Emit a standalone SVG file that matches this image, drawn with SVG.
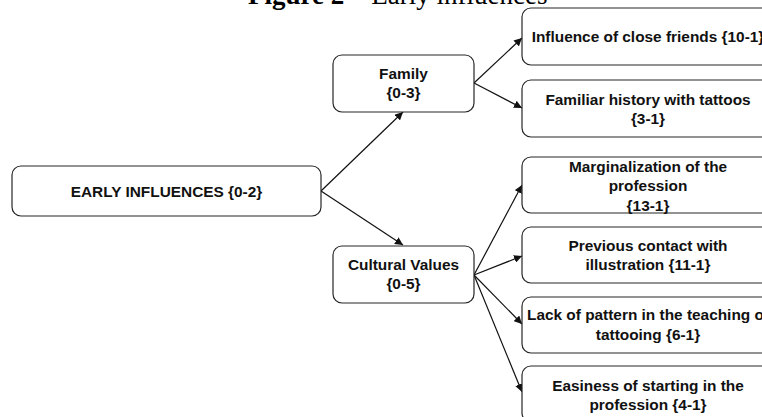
<svg xmlns="http://www.w3.org/2000/svg" width="762" height="417" viewBox="0 0 762 417">
<style>
.box{fill:#fff;stroke:#262626;stroke-width:1.2}
.t{font-family:"Liberation Sans",Arial,sans-serif;font-weight:bold;font-size:15.4px;fill:#111;text-anchor:middle}
.ttl{font-family:"Liberation Serif","Times New Roman",serif;font-size:27px;fill:#000}
.c{stroke:#111;stroke-width:1.2;fill:none;marker-end:url(#ah)}
</style>
<defs>
<marker id="ah" viewBox="0 0 10 10" refX="10" refY="5" markerWidth="8" markerHeight="8" markerUnits="userSpaceOnUse" orient="auto">
<path d="M0,0 L10,5 L0,10 z" fill="#111"/>
</marker>
</defs>
<text class="ttl" x="248" y="3.5"><tspan font-weight="bold">Figure 2</tspan> – Early influences</text>
<g id="connectors">
<line class="c" x1="321" y1="191" x2="403" y2="112"/>
<line class="c" x1="321" y1="191" x2="403" y2="245"/>
<line class="c" x1="474" y1="83" x2="522" y2="38"/>
<line class="c" x1="474" y1="83" x2="522" y2="108"/>
<line class="c" x1="474" y1="275" x2="522" y2="185"/>
<line class="c" x1="474" y1="275" x2="522" y2="256"/>
<line class="c" x1="474" y1="275" x2="522" y2="324"/>
<line class="c" x1="474" y1="275" x2="522" y2="392"/>
</g>
<g id="early">
<rect class="box" x="12" y="166" width="309" height="50" rx="9"/>
<text class="t" x="166.5" y="196.5">EARLY INFLUENCES {0-2}</text>
</g>
<g id="family">
<rect class="box" x="333" y="55" width="141" height="57" rx="9"/>
<text class="t" x="403.5" y="78.5">Family</text>
<text class="t" x="403.5" y="97.5">{0-3}</text>
</g>
<g id="cultural">
<rect class="box" x="333" y="246" width="141" height="57" rx="9"/>
<text class="t" x="403.5" y="270">Cultural Values</text>
<text class="t" x="403.5" y="289">{0-5}</text>
</g>
<g id="friends">
<rect class="box" x="522" y="8" width="260" height="57" rx="9"/>
<text class="t" x="648" y="41.5">Influence of close friends {10-1}</text>
</g>
<g id="history">
<rect class="box" x="522" y="80" width="260" height="57" rx="9"/>
<text class="t" x="648" y="104.5">Familiar history with tattoos</text>
<text class="t" x="648" y="123.5">{3-1}</text>
</g>
<g id="marginalization">
<rect class="box" x="522" y="157" width="260" height="56" rx="9"/>
<text class="t" x="648" y="171.5">Marginalization of the</text>
<text class="t" x="648" y="191">profession</text>
<text class="t" x="648" y="210.5">{13-1}</text>
</g>
<g id="previous">
<rect class="box" x="522" y="227" width="260" height="56" rx="9"/>
<text class="t" x="648" y="250.5">Previous contact with</text>
<text class="t" x="648" y="269.5">illustration {11-1}</text>
</g>
<g id="lack">
<rect class="box" x="522" y="297" width="260" height="56" rx="9"/>
<text class="t" x="648" y="319.5">Lack of pattern in the teaching of</text>
<text class="t" x="648" y="339.5">tattooing {6-1}</text>
</g>
<g id="easiness">
<rect class="box" x="522" y="366" width="260" height="56" rx="9"/>
<text class="t" x="648" y="390.5">Easiness of starting in the</text>
<text class="t" x="648" y="409.5">profession {4-1}</text>
</g>
</svg>
